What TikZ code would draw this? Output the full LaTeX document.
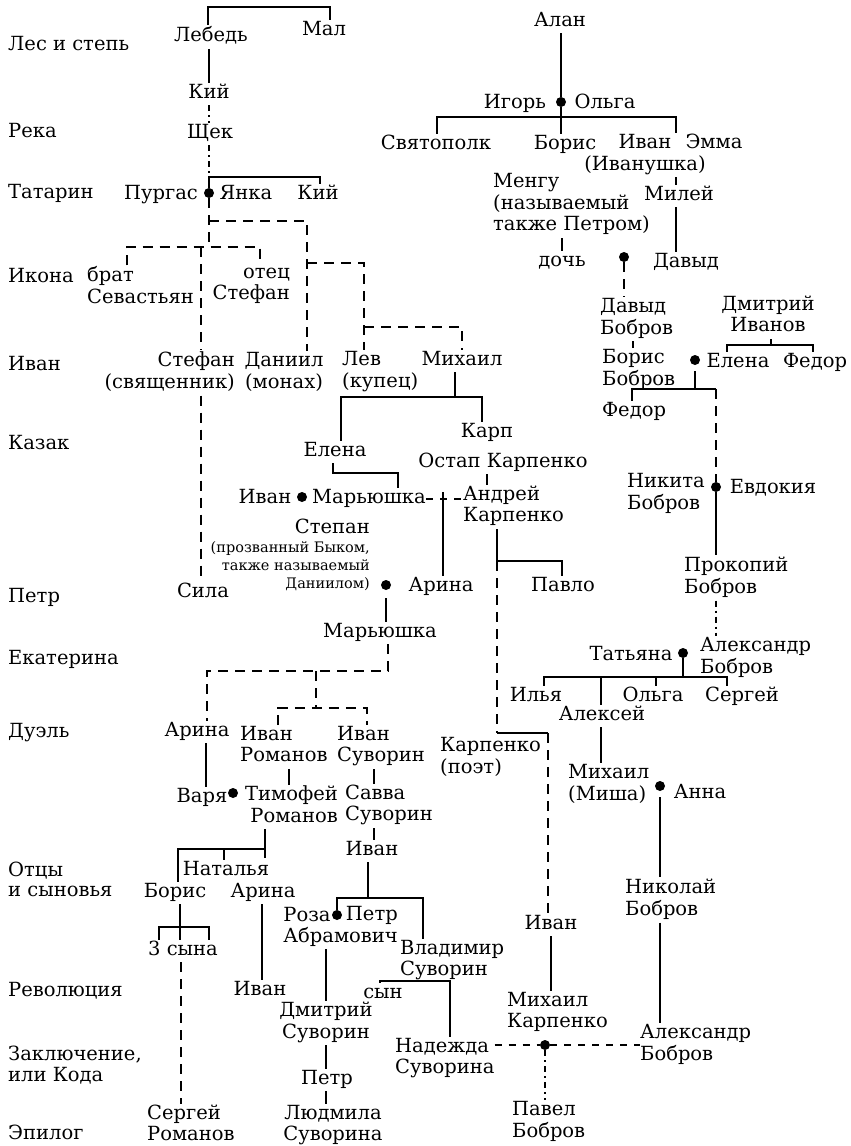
\documentclass[tikz,border=0pt]{standalone}
\usepackage{fontspec}
\setmainfont{DejaVu Serif}
\newcommand\nf{\fontsize{19.5}{20}\selectfont}
\newcommand\smallnf{\fontsize{14.5}{18}\selectfont}
\newcommand\Z{\strut}
\begin{document}
\begin{tikzpicture}[x=1pt,y=-1pt,
  nmC/.style={font=\nf, inner xsep=0pt, inner ysep=1pt, align=center},
  nmL/.style={nmC, align=left, anchor=west},
  nmR/.style={nmC, align=right, anchor=east},
  lbl/.style={nmL},
  ln/.style={line width=2.7pt},
  dsh/.style={ln, dash pattern=on 10pt off 7pt},
  dsh2/.style={ln, dash pattern=on 7pt off 7pt},
  ddot/.style={ln, dash pattern=on 6pt off 4pt on 2pt off 4pt},
  dot/.style={circle, fill=black, inner sep=0pt, minimum size=10pt}]
\useasboundingbox (0,0) rectangle (851,1146);

% ---------- row labels ----------
\node[lbl] (l1) at (8,46) {\Z Лес и степь};
\node[lbl] (l2) at (8,133) {\Z Река};
\node[lbl] (l3) at (8,194) {\Z Татарин};
\node[lbl] (l4) at (8,278) {\Z Икона};
\node[lbl] (l5) at (8,366) {\Z Иван};
\node[lbl] (l6) at (8,445) {\Z Казак};
\node[lbl] (l7) at (8,598) {\Z Петр};
\node[lbl] (l8) at (8,660) {\Z Екатерина};
\node[lbl] (l9) at (8,733) {\Z Дуэль};
\node[lbl] (l10) at (8,882) {\Z Отцы\\\Z и сыновья};
\node[lbl] (l11) at (8,992) {\Z Революция};
\node[lbl] (l12) at (8,1067) {\Z Заключение,\\\Z или Кода};
\node[lbl] (l13) at (8,1135) {\Z Эпилог};

% ---------- left / middle people ----------
\node[nmC] (lebed) at (211,37) {\Z Лебедь};
\node[nmC] (mal) at (324,31) {\Z Мал};
\node[nmC] (kiy1) at (209,94) {\Z Кий};
\node[nmC] (shchek) at (210,134) {\Z Щек};
\node[nmC] (purgas) at (161,195) {\Z Пургас};
\node[dot] (d1) at (209,193) {};
\node[nmC] (yanka) at (246,195) {\Z Янка};
\node[nmC] (kiy2) at (318,195) {\Z Кий};
\node[nmL] (brat) at (87,288) {\Z брат\\\Z Севастьян};
\node[nmR] (otec) at (290,285) {\Z отец\\\Z Стефан};
\node[nmR] (stefan2) at (235,373) {\Z Стефан\\\Z (священник)};
\node[nmC] (daniil) at (284,373) {\Z Даниил\\\Z (монах)};
\node[nmL] (lev) at (342,372) {\Z Лев\\\Z (купец)};
\node[nmC] (mikhail1) at (462,361) {\Z Михаил};
\node[nmC] (elena1) at (335,452) {\Z Елена};
\node[nmC] (karp) at (487,433) {\Z Карп};
\node[nmC] (ostap) at (503,463) {\Z Остап Карпенко};
\node[nmC] (ivan2) at (265,499) {\Z Иван};
\node[dot] (d2) at (302,497) {};
\node[nmC] (maryushka1) at (369,499) {\Z Марьюшка};
\node[nmL] (andrey) at (463,507) {\Z Андрей\\\Z Карпенко};
\node[nmR] (stepan) at (370,529) {\Z Степан};
\node[nmR, font=\smallnf] (stepanN) at (370,567) {\Z (прозванный Быком,\\\Z также называемый\\\Z Даниилом)};
\node[nmC] (sila) at (203,593) {\Z Сила};
\node[dot] (d3) at (386,585) {};
\node[nmC] (arina1) at (441,587) {\Z Арина};
\node[nmC] (pavlo) at (563,587) {\Z Павло};
\node[nmC] (maryushka2) at (380,633) {\Z Марьюшка};
\node[nmL] (poet) at (440,758) {\Z Карпенко\\\Z (поэт)};
\node[nmC] (arina2) at (197,732) {\Z Арина};
\node[nmL] (ivanrom) at (240,747) {\Z Иван\\\Z Романов};
\node[nmL] (ivansuv) at (337,747) {\Z Иван\\\Z Суворин};
\node[nmC] (varya) at (202,798) {\Z Варя};
\node[dot] (d4) at (233,793) {};
\node[nmR] (timofey) at (338,807) {\Z Тимофей\\\Z Романов};
\node[nmL] (savva) at (345,806) {\Z Савва\\\Z Суворин};
\node[nmC] (ivan3) at (372,851) {\Z Иван};
\node[nmC] (natalya) at (226,871) {\Z Наталья};
\node[nmC] (boris2) at (175,893) {\Z Борис};
\node[nmC] (arina3) at (263,893) {\Z Арина};
\node[nmC] (sons) at (183,951) {\Z 3 сына};
\node[nmL] (sergeyrom) at (147,1126) {\Z Сергей\\\Z Романов};
\node[nmC] (ivan4) at (260,991) {\Z Иван};
\node[nmC] (roza) at (307,917) {\Z Роза};
\node[dot] (d5) at (337,915) {};
\node[nmR] (petrab) at (398,927) {\Z Петр\\\Z Абрамович};
\node[nmL] (vladimir) at (400,961) {\Z Владимир\\\Z Суворин};
\node[nmC] (dmitriy) at (326,1023) {\Z Дмитрий\\\Z Суворин};
\node[nmC] (syn) at (383,994) {\Z сын};
\node[nmL] (nadezhda) at (395,1059) {\Z Надежда\\\Z Суворина};
\node[nmC] (petr2) at (327,1080) {\Z Петр};
\node[nmC] (lyudmila) at (333,1126) {\Z Людмила\\\Z Суворина};

% ---------- right people ----------
\node[nmC] (alan) at (560,22) {\Z Алан};
\node[nmC] (igor) at (515,104) {\Z Игорь};
\node[dot] (d6) at (561,102) {};
\node[nmC] (olga1) at (605,104) {\Z Ольга};
\node[nmC] (svyatopolk) at (436,145) {\Z Святополк};
\node[nmC] (boris1) at (565,145) {\Z Борис};
\node[nmC] (ivanushka) at (645,155) {\Z Иван\\\Z (Иванушка)};
\node[nmC] (emma) at (714,144) {\Z Эмма};
\node[nmL] (mengu) at (493,205) {\Z Менгу\\\Z (называемый\\\Z также Петром)};
\node[nmC] (miley) at (679,196) {\Z Милей};
\node[nmC] (doch) at (562,262) {\Z дочь};
\node[dot] (d7) at (624,257) {};
\node[nmC] (davyd1) at (686,263) {\Z Давыд};
\node[nmL] (davydbob) at (600,319) {\Z Давыд\\\Z Бобров};
\node[nmC] (dmitriyiv) at (768,317) {\Z Дмитрий\\\Z Иванов};
\node[nmL] (borisbob) at (602,370) {\Z Борис\\\Z Бобров};
\node[dot] (d8) at (695,360) {};
\node[nmC] (elena2) at (738,363) {\Z Елена};
\node[nmC] (fedor1) at (815,363) {\Z Федор};
\node[nmC] (fedor2) at (634,412) {\Z Федор};
\node[nmL] (nikita) at (627,494) {\Z Никита\\\Z Бобров};
\node[dot] (d9) at (716,487) {};
\node[nmC] (evdokiya) at (773,489) {\Z Евдокия};
\node[nmL] (prokopiy) at (684,578) {\Z Прокопий\\\Z Бобров};
\node[nmC] (tatyana) at (631,656) {\Z Татьяна};
\node[dot] (d10) at (683,653) {};
\node[nmL] (aleksandr1) at (700,658) {\Z Александр\\\Z Бобров};
\node[nmC] (ilya) at (536,697) {\Z Илья};
\node[nmC] (aleksey) at (602,716) {\Z Алексей};
\node[nmC] (olga2) at (653,697) {\Z Ольга};
\node[nmC] (sergey) at (742,697) {\Z Сергей};
\node[nmL] (mikhail2) at (568,785) {\Z Михаил\\\Z (Миша)};
\node[dot] (d11) at (660,786) {};
\node[nmC] (anna) at (700,794) {\Z Анна};
\node[nmL] (nikolay) at (625,900) {\Z Николай\\\Z Бобров};
\node[nmL] (aleksandr2) at (640,1045) {\Z Александр\\\Z Бобров};
\node[nmC] (ivan5) at (551,925) {\Z Иван};
\node[nmL] (mikhailk) at (507,1013) {\Z Михаил\\\Z Карпенко};
\node[dot] (d12) at (545,1045) {};
\node[nmL] (pavel) at (512,1122) {\Z Павел\\\Z Бобров};

% ---------- junction coordinates ----------
\coordinate (a1) at (208,7);   \coordinate (a2) at (330,7);
\coordinate (xK) at (209,60);  \coordinate (a4) at (209,177);  \coordinate (a5) at (320,177);
\coordinate (a6) at (209,247); \coordinate (a7) at (209,221);  \coordinate (a8) at (307,221);
\coordinate (a9) at (127,247); \coordinate (a10) at (260,247); \coordinate (a11) at (201,247);
\coordinate (a12) at (307,263); \coordinate (a13) at (364,263);
\coordinate (a14) at (364,327); \coordinate (a15) at (462,327);
\coordinate (a16) at (455,397); \coordinate (a17) at (341,397); \coordinate (a18) at (482,397);
\coordinate (a19) at (333,473); \coordinate (a20) at (398,473);
\coordinate (a21) at (487,470); \coordinate (a22) at (443,492);
\coordinate (a23) at (497,561); \coordinate (a24) at (562,561);
\coordinate (a25) at (497,733); \coordinate (a26) at (548,733);
\coordinate (b1) at (388,671); \coordinate (b2) at (207,671);
\coordinate (b3) at (316,671); \coordinate (b4) at (316,708);
\coordinate (b5) at (278,708); \coordinate (b6) at (367,708);
\coordinate (b7) at (206,760); \coordinate (b8) at (289,770); \coordinate (b9) at (374,770);
\coordinate (b10) at (265,849); \coordinate (b11) at (178,849);
\coordinate (b12) at (224,849); \coordinate (b13) at (265,858);
\coordinate (b14) at (180,927); \coordinate (b15) at (159,927); \coordinate (b16) at (209,927);
\coordinate (b17) at (181,1000); \coordinate (b18) at (262,950);
\coordinate (c1) at (368,898); \coordinate (c2) at (337,898); \coordinate (c3) at (423,898);
\coordinate (c4) at (326,970); \coordinate (c5) at (380,981); \coordinate (c6) at (450,981);
\coordinate (e1) at (437,117); \coordinate (e2) at (676,117); \coordinate (e3) at (676,133);
\coordinate (e4) at (562,240); \coordinate (e5) at (633,340);
\coordinate (e6) at (771,345); \coordinate (e7) at (727,345); \coordinate (e8) at (813,345);
\coordinate (e9) at (695,389); \coordinate (e10) at (632,389); \coordinate (e11) at (716,389);
\coordinate (e12) at (716,600);
\coordinate (e13) at (683,677); \coordinate (e14) at (544,677); \coordinate (e15) at (727,677);
\coordinate (e16) at (601,677); \coordinate (e17) at (656,677);
\coordinate (e18) at (551,950);

% ---------- connectors: left ----------
\draw[ln] (a1 |- lebed.north) -- (a1) -- (a2) -- (a2 |- mal.north);
\draw[ln] (xK |- lebed.south) -- (xK |- kiy1.north);
\draw[ddot] (xK |- kiy1.south) -- (xK |- shchek.north);
\draw[ddot] (xK |- shchek.south) -- (a4);
\draw[ln] (d1) -- (a4) -- (a5) -- (a5 |- kiy2.north);
\draw[dsh] (d1) -- (a6);
\draw[dsh] (a7) -- (a8) -- (a8 |- daniil.north);
\draw[dsh] (a9 |- brat.north) -- (a9) -- (a10) -- (a10 |- otec.north);
\draw[dsh] (a11) -- (a11 |- stefan2.north);
\draw[dsh] (a11 |- stefan2.south) -- (a11 |- sila.north);
\draw[dsh] (a12) -- (a13) -- (a13 |- lev.north);
\draw[dsh] (a14) -- (a15) -- (a15 |- mikhail1.north);
\draw[ln] (a16 |- mikhail1.south) -- (a16);
\draw[ln] (a17 |- elena1.north) -- (a17) -- (a18) -- (a18 |- karp.north);
\draw[ln] (a19 |- elena1.south) -- (a19) -- (a20) -- (a20 |- maryushka1.north);
\draw[ln] (a21 |- ostap.south) -- (a21 |- andrey.north);
\draw[dsh2] (maryushka1.east) -- (maryushka1.east -| andrey.west);
\draw[ln] (a22) -- (a22 |- arina1.north);
\draw[ln] (a23 |- andrey.south) -- (a23) -- (a24) -- (a24 |- pavlo.north);
\draw[dsh] (a23) -- (a25);
\draw[ln] (a25) -- (a26);
\draw[dsh] (a26) -- (a26 |- ivan5.north);
\draw[ln, shorten <=8pt] (d3) -- (d3 |- maryushka2.north);
\draw[dsh] (b1 |- maryushka2.south) -- (b1) -- (b2) -- (b2 |- arina2.north);
\draw[dsh] (b3) -- (b4);
\draw[dsh] (b5 |- ivanrom.north) -- (b5) -- (b6) -- (b6 |- ivansuv.north);
\draw[ln] (b7 |- arina2.south) -- (b7 |- varya.north);
\draw[ln] (b8 |- ivanrom.south) -- (b8 |- timofey.north);
\draw[ln] (b9 |- ivansuv.south) -- (b9 |- savva.north);
\draw[ln] (b9 |- savva.south) -- (b9 |- ivan3.north);
\draw[ln] (b10 |- timofey.south) -- (b13);
\draw[ln] (b10) -- (b11) -- (b11 |- boris2.north);
\draw[ln] (b12) -- (b12 |- natalya.north);
\draw[ln] (b14 |- boris2.south) -- (b14 |- sons.north);
\draw[ln] (b15 |- sons.north) -- (b15) -- (b16) -- (b16 |- sons.north);
\draw[dsh] (b17 |- sons.south) -- (b17 |- sergeyrom.north);
\draw[ln] (b18 |- arina3.south) -- (b18 |- ivan4.north);
\draw[ln] (c1 |- ivan3.south) -- (c1);
\draw[ln] (d5) -- (c2) -- (c3) -- (c3 |- vladimir.north);
\draw[ln] (c4 |- petrab.south) -- (c4 |- dmitriy.north);
\draw[ln] (c5 |- syn.north) -- (c5) -- (c6) -- (c6 |- nadezhda.north);
\draw[ln] (c4 |- dmitriy.south) -- (c4 |- petr2.north);
\draw[ln] (c4 |- petr2.south) -- (c4 |- lyudmila.north);

% ---------- connectors: right ----------
\draw[ln] (alan.south -| d6) -- (d6);
\draw[ln] (d6) -- (d6 |- boris1.north);
\draw[ln] (e1 |- svyatopolk.north) -- (e1) -- (e2) -- (e3);
\draw[ln] (e3 |- ivanushka.south) -- (e3 |- miley.north);
\draw[ln] (e3 |- miley.south) -- (e3 |- davyd1.north);
\draw[ln] (e4 |- mengu.south) -- (e4 |- doch.north);
\draw[dsh] (d7) -- (d7 |- davydbob.north);
\draw[dsh] (e5 |- davydbob.south) -- (e5 |- borisbob.north);
\draw[ln] (e6 |- dmitriyiv.south) -- (e6);
\draw[ln] (e7 |- elena2.north) -- (e7) -- (e8) -- (e8 |- fedor1.north);
\draw[ln, shorten <=6pt] (d8) -- (e9);
\draw[ln] (e10 |- fedor2.north) -- (e10) -- (e11);
\draw[dsh] (e11) -- (d9);
\draw[ln] (d9) -- (d9 |- prokopiy.north);
\draw[ddot] (e12 |- prokopiy.south) -- (e12 |- aleksandr1.north);
\draw[ln] (d10) -- (e13);
\draw[ln] (e14 |- ilya.north) -- (e14) -- (e15) -- (e15 |- sergey.north);
\draw[ln] (e16) -- (e16 |- aleksey.north);
\draw[ln] (e17) -- (e17 |- olga2.north);
\draw[ln] (e16 |- aleksey.south) -- (e16 |- mikhail2.north);
\draw[ln, shorten <=6pt] (d11) -- (d11 |- nikolay.north);
\draw[ln] (d11 |- nikolay.south) -- (d11 |- aleksandr2.north);
\draw[ln] (e18 |- ivan5.south) -- (e18 |- mikhailk.north);
\draw[dsh2] (nadezhda.east |- d12) -- (d12);
\draw[dsh2] (d12) -- (d12 -| aleksandr2.west);
\draw[ddot] (d12) -- (d12 |- pavel.north);
\end{tikzpicture}
\end{document}
